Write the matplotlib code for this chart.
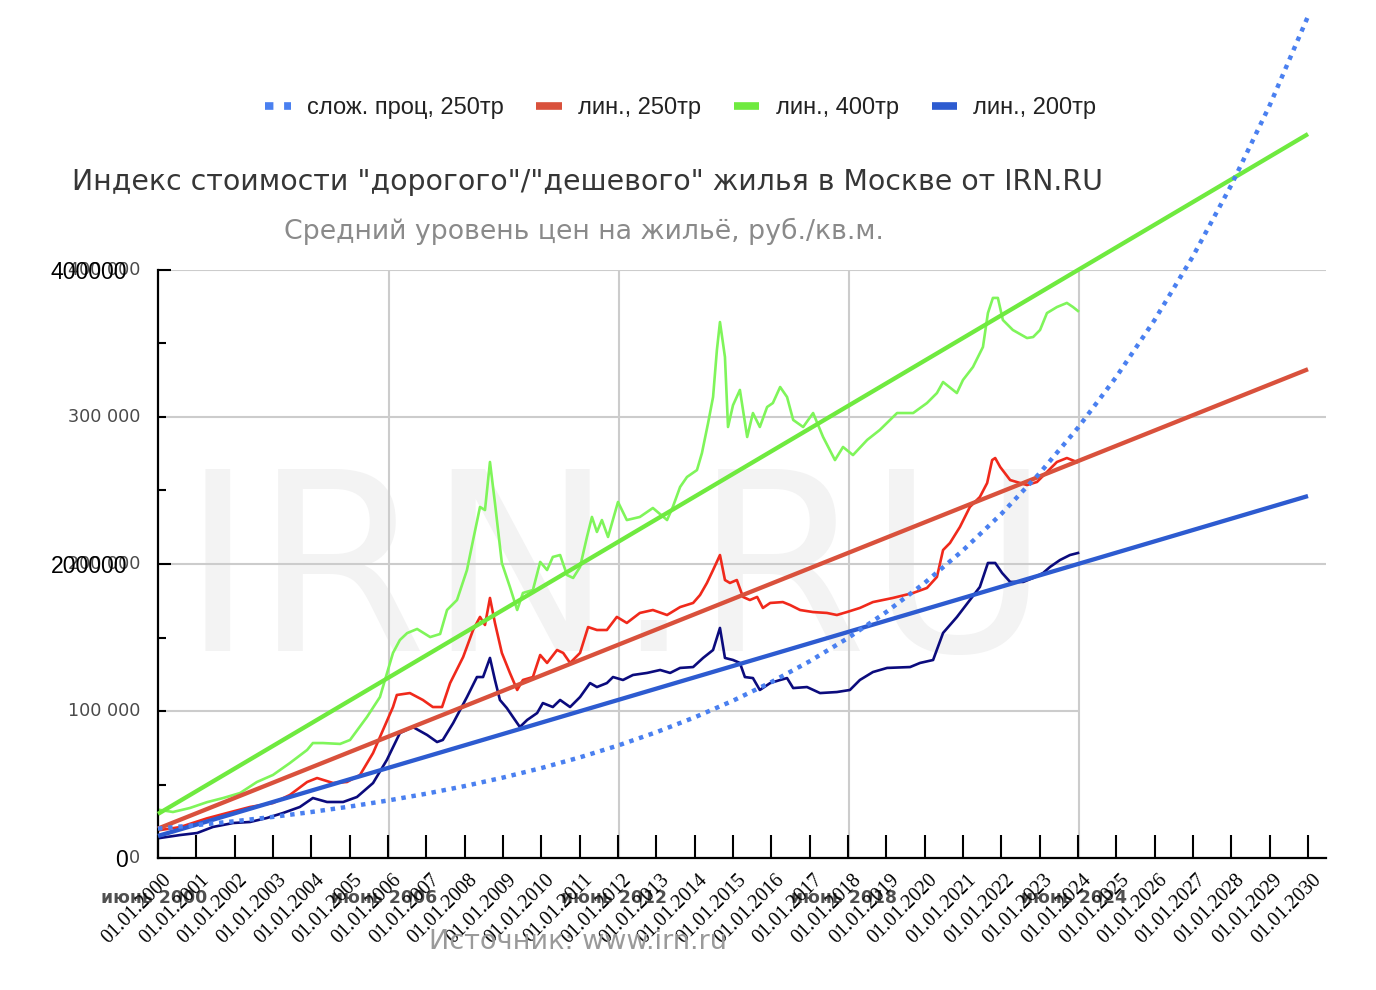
import matplotlib
matplotlib.use("Agg")
import matplotlib.pyplot as plt
import matplotlib.transforms as mtransforms
from matplotlib.lines import Line2D
from matplotlib.ticker import MultipleLocator
import numpy as np

# --- IRN.RU background series (years, thousand rub per sq.m.) ---
expensive_years = [
    2000.05, 2000.39, 2000.83, 2001.28, 2001.70, 2002.14, 2002.58, 2003.00, 2003.44, 2003.89,
    2004.04, 2004.30, 2004.75, 2005.01, 2005.45, 2005.79, 2006.13, 2006.31, 2006.50, 2006.76,
    2007.10, 2007.36, 2007.54, 2007.80, 2008.06, 2008.22, 2008.40, 2008.53, 2008.66, 2008.79,
    2008.97, 2009.18, 2009.37, 2009.52, 2009.78, 2009.97, 2010.15, 2010.30, 2010.49, 2010.67,
    2010.83, 2011.01, 2011.19, 2011.32, 2011.45, 2011.58, 2011.74, 2012.00, 2012.23, 2012.57,
    2012.91, 2013.28, 2013.43, 2013.62, 2013.80, 2014.06, 2014.19, 2014.35, 2014.48, 2014.58,
    2014.66, 2014.79, 2014.87, 2015.00, 2015.18, 2015.37, 2015.52, 2015.70, 2015.89, 2016.04,
    2016.23, 2016.41, 2016.57, 2016.83, 2017.09, 2017.35, 2017.66, 2017.87, 2018.13, 2018.50,
    2018.83, 2019.28, 2019.70, 2020.06, 2020.32, 2020.48, 2020.84, 2021.00, 2021.26, 2021.52,
    2021.65, 2021.78, 2021.91, 2022.04, 2022.30, 2022.67, 2022.83, 2023.01, 2023.19, 2023.45,
    2023.71, 2023.87, 2024.00,
]
expensive_price = [
    32.7, 31.3, 34.0, 38.0, 40.8, 44.2, 51.7, 56.5, 64.6, 73.5,
    78.2, 78.2, 77.6, 80.3, 95.9, 109.5, 139.5, 148.3, 153.0, 155.8,
    150.3, 152.4, 168.7, 175.5, 195.9, 216.3, 238.8, 236.7, 269.4, 241.5,
    200.7, 184.4, 168.7, 180.3, 182.3, 201.4, 195.9, 204.8, 206.1, 192.5,
    190.5, 198.0, 218.4, 232.0, 221.8, 229.9, 218.4, 242.2, 229.9, 232.0,
    238.1, 229.9, 238.8, 252.4, 259.2, 263.9, 275.5, 295.9, 313.6, 345.6,
    364.6, 340.8, 293.2, 308.0, 318.4, 286.4, 302.7, 293.2, 306.8, 309.5,
    320.4, 313.6, 298.0, 293.2, 302.7, 286.4, 270.7, 279.6, 274.1, 284.4,
    291.2, 302.7, 302.7, 309.5, 316.3, 323.8, 316.3, 325.2, 334.0, 347.6,
    370.7, 381.0, 381.0, 366.0, 359.2, 353.7, 354.4, 359.2, 370.7, 374.8,
    377.6, 374.8, 372.1,
]

average_years = [
    2000.05, 2000.57, 2001.28, 2001.80, 2002.40, 2003.00, 2003.44, 2003.89, 2004.15, 2004.57,
    2004.93, 2005.27, 2005.61, 2005.87, 2006.13, 2006.23, 2006.57, 2006.91, 2007.17, 2007.41,
    2007.62, 2007.96, 2008.22, 2008.40, 2008.53, 2008.66, 2008.79, 2008.97, 2009.18, 2009.37,
    2009.52, 2009.78, 2009.97, 2010.15, 2010.41, 2010.57, 2010.75, 2011.01, 2011.22, 2011.45,
    2011.71, 2011.97, 2012.23, 2012.57, 2012.91, 2013.28, 2013.62, 2013.96, 2014.14, 2014.32,
    2014.48, 2014.66, 2014.79, 2014.92, 2015.10, 2015.26, 2015.44, 2015.63, 2015.78, 2015.97,
    2016.30, 2016.49, 2016.75, 2017.09, 2017.45, 2017.71, 2017.97, 2018.31, 2018.65, 2019.17,
    2019.70, 2020.06, 2020.32, 2020.48, 2020.66, 2020.92, 2021.18, 2021.44, 2021.63, 2021.76,
    2021.84, 2021.97, 2022.23, 2022.49, 2022.67, 2022.93, 2023.19, 2023.45, 2023.71, 2023.97,
]
average_price = [
    19.0, 21.0, 27.0, 30.6, 34.7, 37.4, 42.9, 51.7, 54.4, 51.0,
    51.7, 56.5, 71.4, 87.1, 102.7, 110.9, 112.2, 107.5, 102.7, 102.7,
    119.0, 136.7, 155.1, 164.0, 158.5, 176.9, 159.9, 139.5, 125.9, 114.3,
    121.1, 123.1, 138.1, 132.7, 141.5, 139.5, 132.7, 139.5, 157.1, 155.1,
    155.1, 164.0, 159.9, 166.7, 168.7, 165.3, 170.7, 173.5, 178.9, 187.1,
    195.9, 206.1, 189.1, 187.1, 189.1, 177.6, 175.5, 177.6, 170.1, 173.5,
    174.1, 172.1, 168.7, 167.3, 166.7, 165.3, 167.3, 170.1, 174.1, 176.9,
    180.3, 183.7, 191.2, 209.5, 214.3, 225.2, 238.8, 245.6, 255.1, 270.7,
    272.1, 266.0, 257.1, 255.1, 253.7, 255.8, 262.6, 269.4, 272.1, 269.4,
]

cheap_years = [
    2000.05, 2000.57, 2001.02, 2001.43, 2001.96, 2002.40, 2002.84, 2003.26, 2003.70, 2004.04,
    2004.41, 2004.83, 2005.19, 2005.61, 2005.97, 2006.31, 2006.65, 2007.02, 2007.28, 2007.43,
    2007.70, 2008.06, 2008.32, 2008.48, 2008.66, 2008.79, 2008.92, 2009.10, 2009.26, 2009.44,
    2009.63, 2009.89, 2010.04, 2010.30, 2010.49, 2010.75, 2011.01, 2011.27, 2011.45, 2011.71,
    2011.87, 2012.13, 2012.39, 2012.76, 2013.10, 2013.36, 2013.62, 2013.96, 2014.22, 2014.48,
    2014.66, 2014.79, 2015.00, 2015.18, 2015.31, 2015.52, 2015.70, 2015.97, 2016.23, 2016.41,
    2016.57, 2016.93, 2017.27, 2017.71, 2018.05, 2018.31, 2018.65, 2019.02, 2019.62, 2019.88,
    2020.22, 2020.48, 2020.84, 2021.18, 2021.44, 2021.65, 2021.84, 2022.02, 2022.23, 2022.57,
    2022.83, 2023.09, 2023.27, 2023.53, 2023.79, 2024.00,
]
cheap_price = [
    13.6, 15.6, 17.0, 21.1, 23.8, 24.5, 27.2, 30.6, 34.7, 40.8,
    38.1, 38.1, 41.5, 51.0, 66.7, 85.0, 89.1, 83.7, 78.9, 80.3,
    91.8, 109.5, 123.1, 123.1, 136.1, 121.1, 107.5, 102.0, 95.9, 89.1,
    93.9, 98.6, 105.4, 102.7, 107.5, 102.7, 109.5, 119.0, 116.3, 119.0,
    123.1, 121.1, 124.5, 125.9, 127.9, 125.9, 129.3, 129.9, 136.1, 141.5,
    156.5, 136.1, 134.7, 132.7, 123.1, 122.4, 114.3, 119.0, 121.1, 122.4,
    115.6, 116.3, 112.2, 112.9, 114.3, 121.1, 126.5, 129.3, 129.9, 132.7,
    134.7, 153.1, 163.9, 175.5, 184.4, 200.7, 200.7, 193.9, 187.8, 187.8,
    190.5, 193.9, 198.0, 202.7, 206.1, 207.5,
]

# --- overlay forecast series ---
forecast_years = list(range(2000, 2031))
compound_250 = [
    20000, 22370, 25010, 27970, 31280, 34980, 39120, 43750, 48920, 54710,
    61180, 68420, 76510, 85570, 95690, 107010, 119670, 133830, 149660, 167360,
    187160, 209310, 234070, 261760, 292720, 327350, 366080, 409390, 457820, 511980,
    572550,
]
trend_years = [2000, 2030]
linear_250 = [20000, 332500]
linear_400 = [30000, 492500]
linear_200 = [15000, 246250]

legend_labels = ["слож. проц, 250тр", "лин., 250тр", "лин., 400тр", "лин., 200тр"]
bg_ytick_values = [0, 100000, 200000, 300000, 400000]
bg_ytick_labels = ["0", "100 000", "200 000", "300 000", "400 000"]
bg_xlabel_years = [2000, 2006, 2012, 2018, 2024]
bg_xlabel_texts = ["июнь 2000", "июнь 2006", "июнь 2012", "июнь 2018", "июнь 2024"]
ytick_values = [0, 200000, 400000]
ytick_labels = ["0", "200000", "400000"]

W, H = 1376, 990
PX_PER_YEAR = (1308 - 158) / 30

fig = plt.figure(figsize=(W / 100, H / 100), dpi=100)
ax = fig.add_axes([158 / W, (H - 858) / H, 1168 / W, 588 / H])
ax.set_xlim(2000, 2000 + 1168 / PX_PER_YEAR)
ax.set_ylim(0, 400000)
x_end = ax.get_xlim()[1]

# background picture: watermark, grid, captions
ax.text(0.392, 0.352, "IRN.RU", transform=ax.transAxes, fontsize=180,
        color="#f3f3f3", ha="center", va="baseline", zorder=0,
        family="DejaVu Sans")
for value in bg_ytick_values[1:]:
    right = 2024 if value == 100000 else x_end
    ax.hlines(value, 2000, right, color="#cccccc", lw=1.5, zorder=1)
for year in bg_xlabel_years[1:]:
    ax.vlines(year + 0.03, 0, 400000, color="#cccccc", lw=1.5, zorder=1)

fig.text(72 / W, 1 - 182 / H,
         'Индекс стоимости "дорогого"/"дешевого" жилья в Москве от IRN.RU',
         fontsize=20.4, color="#363636", ha="left", va="center", family="DejaVu Sans")
fig.text(584 / W, 1 - 231 / H, "Средний уровень цен на жильё, руб./кв.м.",
         fontsize=19.3, color="#8a8a8a", ha="center", va="center", family="DejaVu Sans")
fig.text(578 / W, 1 - 942 / H, "Источник: www.irn.ru",
         fontsize=19.5, color="#9a9a9a", ha="center", va="center", family="DejaVu Sans")

for value, label in zip(bg_ytick_values, bg_ytick_labels):
    ax.text(-18 / 1168, value, label, transform=ax.get_yaxis_transform(),
            ha="right", va="center", fontsize=12.7, color="#4a4a4a",
            family="DejaVu Sans", zorder=1)
for year, label in zip(bg_xlabel_years, bg_xlabel_texts):
    ax.text(year - 0.1, -40 / 588, label, transform=ax.get_xaxis_transform(),
            ha="center", va="center", fontsize=12.4, color="#505050",
            fontweight="bold", family="DejaVu Sans", zorder=1, clip_on=False)

# IRN.RU price lines
k = 1000
ax.plot(expensive_years, np.array(expensive_price) * k, color="#7ff55a", lw=1.9, zorder=2)
ax.plot(average_years, np.array(average_price) * k, color="#f0291b", lw=1.9, zorder=2)
ax.plot(cheap_years, np.array(cheap_price) * k, color="#0b0b7d", lw=1.9, zorder=2)

# overlay trends
ax.plot(trend_years, linear_250, color="#d9513c", lw=3.1, zorder=4, clip_on=False,
        solid_capstyle="butt")
ax.plot(trend_years, linear_400, color="#6fea3f", lw=3.1, zorder=4, clip_on=False,
        solid_capstyle="butt")
ax.plot(trend_years, linear_200, color="#2d5bd0", lw=3.1, zorder=4, clip_on=False,
        solid_capstyle="butt")
ax.plot(forecast_years, compound_250, color="#4a80f0", lw=3.2,
        linestyle=(0, (1, 1.3)), zorder=5, clip_on=False)

# axes
for side in ("top", "right"):
    ax.spines[side].set_visible(False)
ax.spines["left"].set_linewidth(1.6)
ax.spines["bottom"].set_linewidth(1.6)
ax.set_xticks(forecast_years)
ax.set_xticklabels([f"01.01.{y}" for y in forecast_years], rotation=45,
                   ha="right", va="top", rotation_mode="default",
                   family="Liberation Serif", fontsize=14.4)
ax.tick_params(axis="x", direction="in", length=16.5, width=1.5, pad=4)
shift = mtransforms.ScaledTranslation(17 / 100, -7 / 100, fig.dpi_scale_trans)
for label in ax.get_xticklabels():
    label.set_transform(label.get_transform() + shift)
ax.yaxis.set_major_locator(MultipleLocator(100000))
ax.yaxis.set_minor_locator(MultipleLocator(50000))
ax.set_yticks(ytick_values, minor=False)
ax.set_yticklabels(ytick_labels, family="Liberation Sans", fontsize=16.6)
ax.tick_params(axis="y", which="major", direction="in", length=9, width=1.5, pad=22)
ax.tick_params(axis="y", which="minor", direction="in", length=6, width=1.5)

handles = [
    Line2D([], [], color="#4a80f0", lw=5.5, linestyle=(0, (1.1, 1.4))),
    Line2D([], [], color="#d9513c", lw=5.5, solid_capstyle="butt"),
    Line2D([], [], color="#6fea3f", lw=5.5, solid_capstyle="butt"),
    Line2D([], [], color="#2d5bd0", lw=5.5, solid_capstyle="butt"),
]
leg = fig.legend(handles, legend_labels, ncol=4, loc="center left",
                 bbox_to_anchor=(265 / W, 1 - 108 / H), frameon=False,
                 prop={"family": "Liberation Sans", "size": 17},
                 handlelength=1.08, handletextpad=0.68, columnspacing=1.4,
                 borderpad=0, borderaxespad=0)
for text in leg.get_texts():
    text.set_color("#222222")

fig.savefig("out.png", dpi=100)
